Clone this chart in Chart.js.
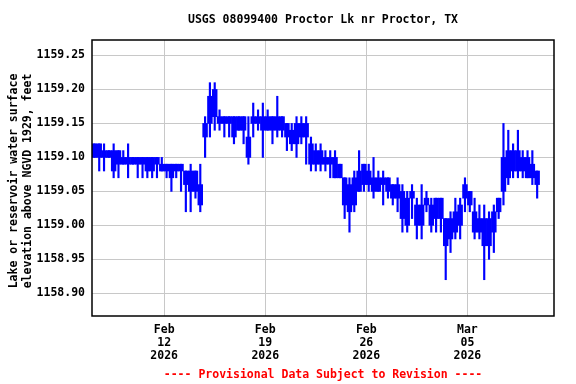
<!DOCTYPE html>
<html>
<head>
<meta charset="utf-8">
<script src="https://cdn.jsdelivr.net/npm/chart.js@4"></script>
<style>
	html, body { margin: 0; padding: 0; background: #fff; }
</style>
</head>
<body>
<canvas id="chart" width="576" height="384"></canvas>
<script>
const title = "USGS 08099400 Proctor Lk nr Proctor, TX"
const yTitle = ["Lake or reservoir water surface", "elevation above NGVD 1929, feet"]
const footer = "---- Provisional Data Subject to Revision ----"

// 8-hour periods from Feb 07 2026 00:00, hundredths of a foot above 1159.00
const bodyLo = [
	10, 10, 10, 10, 8, 9, 9, 9, 9, 9,
	9, 8, 8, 9, 8, 8, 7, 8, 8, 6,
	5, 5, 3, 13, 15, 16, 15, 15, 15, 13,
	14, 14, 10, 15, 15, 14, 14, 14, 14, 14,
	13, 12, 12, 13, 13, 9, 9, 9, 9, 9,
	7, 7, 3, 2, 3, 5, 6, 6, 5, 5,
	6, 5, 4, 4, 1, 0, 4, 0, 0, 3,
	0, 1, 1, -3, -2, -1, 0, 4, 3, -1,
	-1, -3, -3, -1, 2, 5, 7, 8, 8, 8,
	7, 7, 6]
const bodyHi = [
	12, 12, 11, 11, 11, 11, 10, 10, 10, 10,
	10, 10, 10, 10, 9, 9, 9, 9, 9, 8,
	8, 8, 6, 15, 19, 20, 16, 16, 16, 16,
	16, 16, 13, 16, 16, 16, 16, 16, 16, 16,
	15, 14, 15, 15, 15, 12, 11, 11, 10, 10,
	10, 9, 7, 6, 7, 8, 9, 8, 7, 7,
	7, 7, 6, 6, 5, 4, 5, 3, 3, 4,
	3, 4, 4, 1, 1, 2, 3, 6, 5, 2,
	1, 1, 1, 2, 4, 10, 11, 11, 11, 10,
	10, 9, 8]
const lowest = [
	10, 8, 8, 10, 7, 7, 9, 7, 9, 7,
	7, 7, 7, 7, 8, 7, 5, 7, 5, 2,
	2, 4, 2, 10, 13, 14, 14, 13, 13, 12,
	14, 12, 9, 13, 14, 10, 14, 12, 13, 13,
	11, 11, 10, 12, 9, 8, 8, 8, 8, 7,
	7, 7, 1, -1, 2, 5, 5, 5, 4, 5,
	3, 4, 3, 2, -1, -1, 1, -2, -2, 2,
	-1, -1, -1, -8, -4, -2, -2, 2, 2, -2,
	-2, -8, -5, -4, 1, 3, 6, 7, 7, 7,
	7, 6, 4]
const highest = [
	12, 12, 12, 11, 12, 11, 11, 12, 10, 10,
	10, 10, 10, 10, 10, 9, 9, 9, 9, 8,
	9, 8, 9, 16, 21, 21, 17, 16, 16, 16,
	16, 16, 16, 18, 17, 18, 17, 16, 19, 16,
	15, 15, 16, 16, 16, 13, 12, 12, 11, 11,
	11, 9, 7, 7, 8, 11, 9, 9, 10, 8,
	8, 7, 6, 7, 6, 5, 6, 4, 6, 5,
	4, 4, 4, 1, 2, 4, 4, 7, 5, 4,
	3, 3, 2, 3, 4, 15, 14, 12, 14, 11,
	11, 11, 8]

const yTicks = [1158.90, 1158.95, 1159.00, 1159.05, 1159.10, 1159.15, 1159.20, 1159.25]
const xTickDays = [5, 12, 19, 26]
const xTickLabels = [["Feb", "12", "2026"], ["Feb", "19", "2026"], ["Feb", "26", "2026"], ["Mar", "05", "2026"]]

const fontFamily = '"DejaVu Sans Mono", "Liberation Mono", monospace'
const level = v => 1159 + v / 100
const dayOf = i => (i + 0.5) / 3

const frame = {
	id: 'frame',
	afterDraw(chart) {
		const ctx = chart.ctx
		const a = chart.chartArea
		ctx.save()
		ctx.strokeStyle = '#000'
		ctx.lineWidth = 1.5
		ctx.strokeRect(a.left, a.top, a.right - a.left, a.bottom - a.top)
		ctx.font = 'bold 11.5px ' + fontFamily
		ctx.textAlign = 'center'
		ctx.textBaseline = 'middle'
		const cx = (a.left + a.right) / 2
		ctx.fillStyle = '#000'
		ctx.fillText(title, cx, 20)
		ctx.fillStyle = '#f00'
		ctx.fillText(footer, cx, 375)
		ctx.fillStyle = '#000'
		ctx.translate(0, 181)
		ctx.rotate(-Math.PI / 2)
		ctx.fillText(yTitle[0], 0, 14)
		ctx.fillText(yTitle[1], 0, 28)
		ctx.restore()
	}
}

new Chart(document.getElementById("chart"), {
	type: 'bar',
	data: {
		datasets: [{
			label: 'range',
			data: bodyLo.map((lo, i) => ({ x: dayOf(i), y: [level(lo), level(bodyHi[i])] })),
			backgroundColor: '#0000ff',
			borderWidth: 0,
			grouped: false,
			barPercentage: 1,
			categoryPercentage: 1,
		}, {
			label: 'extremes',
			data: lowest.map((lo, i) => ({ x: dayOf(i), y: [level(lo), level(highest[i])] })),
			backgroundColor: '#0000ff',
			borderWidth: 0,
			grouped: false,
			barThickness: 1.5,
		}],
	},
	options: {
		animation: false,
		responsive: false,
		events: [],
		layout: { padding: { top: 40, right: 22, bottom: 0, left: 0 } },
		plugins: {
			legend: { display: false },
			tooltip: { enabled: false },
		},
		scales: {
			x: {
				type: 'linear',
				min: 0,
				max: 32,
				offset: false,
				grid: { color: '#c8c8c8', drawTicks: false, offset: false },
				border: { display: false },
				afterBuildTicks: s => { s.ticks = xTickDays.map(v => ({ value: v })) },
				afterFit: s => { s.height = 68 },
				ticks: {
					autoSkip: false,
					maxRotation: 0,
					padding: 8,
					color: '#000',
					font: { family: fontFamily, size: 11.5, weight: 'bold', lineHeight: 1.13 },
					callback: v => xTickLabels[xTickDays.indexOf(v)],
				},
			},
			y: {
				min: 1158.8666,
				max: 1159.2728,
				grid: { color: '#c8c8c8', drawTicks: false },
				border: { display: false },
				afterBuildTicks: s => { s.ticks = yTicks.map(v => ({ value: v })) },
				afterFit: s => { s.width = 92 },
				ticks: {
					padding: 7,
					color: '#000',
					font: { family: fontFamily, size: 11.5, weight: 'bold' },
					callback: v => v.toFixed(2),
				},
			},
		},
	},
	plugins: [frame],
})
</script>
</body>
</html>
